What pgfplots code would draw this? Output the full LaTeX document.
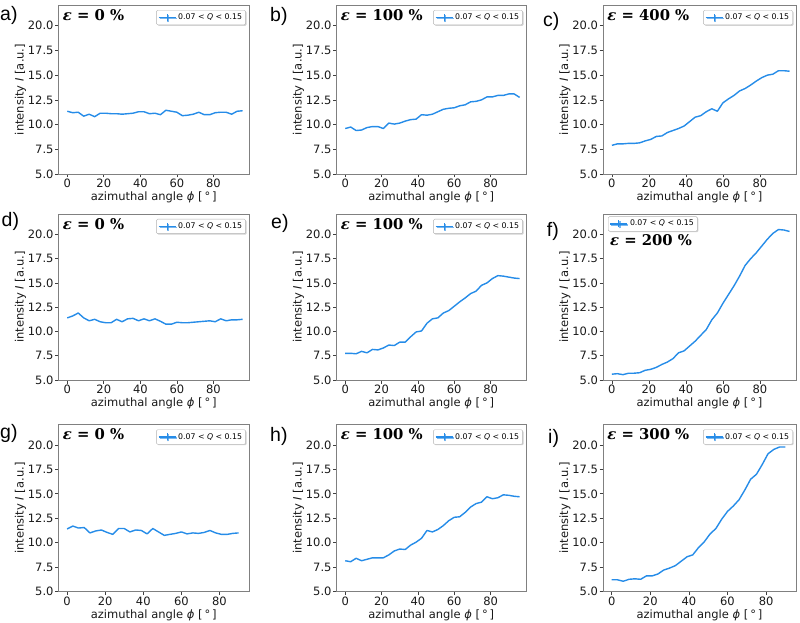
\documentclass[border=0pt]{standalone}
\usepackage[no-math]{fontspec}
\setmainfont{DejaVu Sans}
\newfontfamily\panelfont{Liberation Sans}
\newfontfamily\epsfont{DejaVu Serif}
\usepackage{pgfplots}
\pgfplotsset{compat=1.18}
\usetikzlibrary{shadows}
\definecolor{lineblue}{RGB}{38,140,232}
\definecolor{framegray}{RGB}{128,128,128}

\newcommand{\epslab}[1]{{\epsfont\bfseries{\itshape ε} = #1 \%}}

\pgfplotsset{
 panel/.style={
  scale only axis,
  xmin=-4.8, xmax=99.5, ymin=5, ymax=22.1,
  xtick={0,20,40,60,80}, ytick={5,7.5,10,12.5,15,17.5,20},
  yticklabel style={/pgf/number format/.cd,fixed,fixed zerofill,precision=1},
  /pgf/number format/assume math mode=true,
  every tick label/.append style={text=black!90, inner sep=1.3pt},
  every axis label/.append style={text=black!90, inner sep=0pt},
  every axis x label/.style={at={(axis description cs:0.5,0)}, yshift=-23.5pt, anchor=center},
  every axis y label/.style={at={(axis description cs:0,0.5)}, xshift=-38pt, anchor=center, rotate=90},
  axis line style={framegray, line width=0.8pt},
  tick style={black!75, line width=0.7pt},
  major tick length=3.5pt,
  tick align=outside,
  tickpos=left,
  xlabel={azimuthal angle \textit{ϕ} [\,°\,]},
  ylabel={intensity \textit{I} [a.u.]},
  cycle list={{lineblue, solid, mark=none}},
  every axis plot post/.append style={line width=1.4pt, line join=round},
  legend style={font=\fontsize{7.8}{9}\selectfont, draw=black!30, fill=white, rounded corners=1.2pt,
    inner xsep=1.5pt, inner ysep=1.5pt, at={(0.983,0.97)}, anchor=north east,
    drop shadow={shadow xshift=1pt, shadow yshift=-1pt, fill=black!30, opacity=0.6}},
  legend image code/.code={\draw[#1, line width=1.3pt] (0pt,0pt) -- (17pt,0pt);
    \draw[#1, line width=1pt] (8.5pt,-3.5pt) -- (8.5pt,3.5pt);},
 },
}
\tikzset{plab/.style={anchor=base west, inner sep=0pt, font=\panelfont\fontsize{19.5}{23}\selectfont},
 eps/.style={anchor=north west, inner sep=0pt, font=\fontsize{14.8}{17}\selectfont}}

\begin{document}
\fontsize{11.5}{13.5}\selectfont
\begin{tikzpicture}
\useasboundingbox (0pt,0pt) rectangle (800pt,622pt);

% ---------- a ----------
\begin{axis}[panel, at={(58.5pt,448pt)}, anchor=south west, width=190.5pt, height=169pt]
\addplot table {
0 11.35
3 11.2
6 11.25
9 10.85
12 11.05
15 10.8
18 11.15
21 11.15
24 11.1
27 11.1
30 11.05
33 11.1
36 11.15
39 11.3
42 11.3
45 11.1
48 11.15
51 11.0
54 11.45
57 11.35
60 11.25
63 10.9
66 10.95
69 11.05
72 11.25
75 11.0
78 11.0
81 11.2
84 11.25
87 11.25
90 11.05
93 11.35
96 11.4
};
\addlegendentry{0.07 < \textit{Q} < 0.15}
\node[eps] at (rel axis cs:0.022,0.975) {\epslab{0}};
\end{axis}

% ---------- b ----------
\begin{axis}[panel, at={(336.5pt,448pt)}, anchor=south west, width=189.5pt, height=169pt]
\addplot table {
0 9.6
3 9.75
6 9.4
9 9.45
12 9.7
15 9.8
18 9.8
21 9.6
24 10.15
27 10.05
30 10.15
33 10.35
36 10.5
39 10.55
42 11.0
45 10.95
48 11.05
51 11.3
54 11.55
57 11.65
60 11.7
63 11.9
66 12.0
69 12.3
72 12.35
75 12.5
78 12.8
81 12.8
84 12.95
87 12.95
90 13.1
93 13.1
96 12.75
};
\addlegendentry{0.07 < \textit{Q} < 0.15}
\node[eps] at (rel axis cs:0.022,0.975) {\epslab{100}};
\end{axis}

% ---------- c ----------
\begin{axis}[panel, at={(603pt,448pt)}, anchor=south west, width=193pt, height=169pt]
\addplot table {
0 7.9
3 8.05
6 8.05
9 8.1
12 8.1
15 8.15
18 8.35
21 8.5
24 8.8
27 8.85
30 9.2
33 9.4
36 9.6
39 9.85
42 10.3
45 10.75
48 10.9
51 11.3
54 11.6
57 11.35
60 12.2
63 12.6
66 12.95
69 13.4
72 13.65
75 14.0
78 14.4
81 14.75
84 15.0
87 15.1
90 15.45
93 15.45
96 15.4
};
\addlegendentry{0.07 < \textit{Q} < 0.15}
\node[eps] at (rel axis cs:0.022,0.975) {\epslab{400}};
\end{axis}

% ---------- d ----------
\begin{axis}[panel, at={(58.5pt,242pt)}, anchor=south west, width=190.5pt, height=166pt]
\addplot table {
0 11.4
3 11.6
6 11.9
9 11.4
12 11.1
15 11.25
18 11.0
21 10.9
24 10.9
27 11.25
30 11.0
33 11.3
36 11.35
39 11.1
42 11.3
45 11.1
48 11.3
51 11.05
54 10.75
57 10.75
60 10.95
63 10.9
66 10.9
69 10.95
72 11.0
75 11.05
78 11.1
81 11.0
84 11.3
87 11.1
90 11.2
93 11.2
96 11.25
};
\addlegendentry{0.07 < \textit{Q} < 0.15}
\node[eps] at (rel axis cs:0.022,0.975) {\epslab{0}};
\end{axis}

% ---------- e ----------
\begin{axis}[panel, at={(336.5pt,242pt)}, anchor=south west, width=189.5pt, height=166pt]
\addplot table {
0 7.75
3 7.75
6 7.7
9 7.95
12 7.8
15 8.15
18 8.1
21 8.3
24 8.6
27 8.55
30 8.9
33 8.9
36 9.45
39 9.95
42 10.05
45 10.85
48 11.3
51 11.4
54 11.9
57 12.15
60 12.6
63 13.05
66 13.45
69 13.9
72 14.15
75 14.75
78 15.0
81 15.45
84 15.75
87 15.7
90 15.6
93 15.5
96 15.45
};
\addlegendentry{0.07 < \textit{Q} < 0.15}
\node[eps] at (rel axis cs:0.022,0.975) {\epslab{100}};
\end{axis}

% ---------- f ----------
\begin{axis}[panel, at={(603pt,242pt)}, anchor=south west, width=193pt, height=166pt,
  legend style={at={(0.026,0.985)}, anchor=north west}]
\addplot table {
0 5.6
3 5.65
6 5.55
9 5.7
12 5.7
15 5.75
18 6.0
21 6.1
24 6.3
27 6.6
30 6.85
33 7.2
36 7.8
39 8.0
42 8.5
45 9.0
48 9.6
51 10.2
54 11.2
57 11.9
60 12.9
63 13.8
66 14.7
69 15.7
72 16.8
75 17.5
78 18.1
81 18.8
84 19.5
87 20.1
90 20.5
93 20.45
96 20.3
};
\addlegendentry{0.07 < \textit{Q} < 0.15}
\node[eps] at (rel axis cs:0.036,0.875) {\epslab{200}};
\end{axis}

% ---------- g ----------
\begin{axis}[panel, at={(58.5pt,30.5pt)}, anchor=south west, width=190.5pt, height=167pt, xmin=-4.5, xmax=95.5]
\addplot table {
0 11.4
3 11.7
6 11.5
9 11.55
12 11.0
15 11.2
18 11.3
21 11.05
24 10.85
27 11.45
30 11.45
33 11.1
36 11.3
39 11.25
42 10.9
45 11.45
48 11.1
51 10.75
54 10.85
57 10.95
60 11.1
63 10.9
66 11.0
69 10.95
72 11.05
75 11.25
78 11.0
81 10.85
84 10.85
87 10.95
90 11.0
};
\addlegendentry{0.07 < \textit{Q} < 0.15}
\node[eps] at (rel axis cs:0.022,0.975) {\epslab{0}};
\end{axis}

% ---------- h ----------
\begin{axis}[panel, at={(336.5pt,30.5pt)}, anchor=south west, width=189.5pt, height=167pt]
\addplot table {
0 8.15
3 8.05
6 8.4
9 8.15
12 8.3
15 8.45
18 8.45
21 8.45
24 8.75
27 9.15
30 9.35
33 9.3
36 9.75
39 10.05
42 10.45
45 11.25
48 11.1
51 11.35
54 11.75
57 12.25
60 12.6
63 12.65
66 13.1
69 13.65
72 14.0
75 14.15
78 14.7
81 14.5
84 14.6
87 14.9
90 14.85
93 14.75
96 14.7
};
\addlegendentry{0.07 < \textit{Q} < 0.15}
\node[eps] at (rel axis cs:0.022,0.975) {\epslab{100}};
\end{axis}

% ---------- i ----------
\begin{axis}[panel, at={(603pt,30.5pt)}, anchor=south west, width=193pt, height=167pt, xmin=-4.5, xmax=95.5]
\addplot table {
0 6.2
3 6.2
6 6.05
9 6.25
12 6.3
15 6.25
18 6.6
21 6.6
24 6.8
27 7.2
30 7.4
33 7.65
36 8.1
39 8.55
42 8.75
45 9.5
48 10.1
51 10.9
54 11.45
57 12.4
60 13.2
63 13.75
66 14.4
69 15.4
72 16.5
75 17.0
78 18.0
81 19.1
84 19.55
87 19.8
90 19.8
};
\addlegendentry{0.07 < \textit{Q} < 0.15}
\node[eps] at (rel axis cs:0.022,0.975) {\epslab{300}};
\end{axis}

% ---------- panel letters ----------
\node[plab] at (0pt,601.3pt) {a)};
\node[plab] at (270pt,600.5pt) {b)};
\node[plab] at (543pt,595pt) {c)};
\node[plab] at (1.5pt,395.3pt) {d)};
\node[plab] at (271pt,393.7pt) {e)};
\node[plab] at (546.7pt,385.3pt) {f)};
\node[plab] at (0pt,183.7pt) {g)};
\node[plab] at (270pt,180.3pt) {h)};
\node[plab] at (548pt,178.7pt) {i)};
\end{tikzpicture}
\end{document}
